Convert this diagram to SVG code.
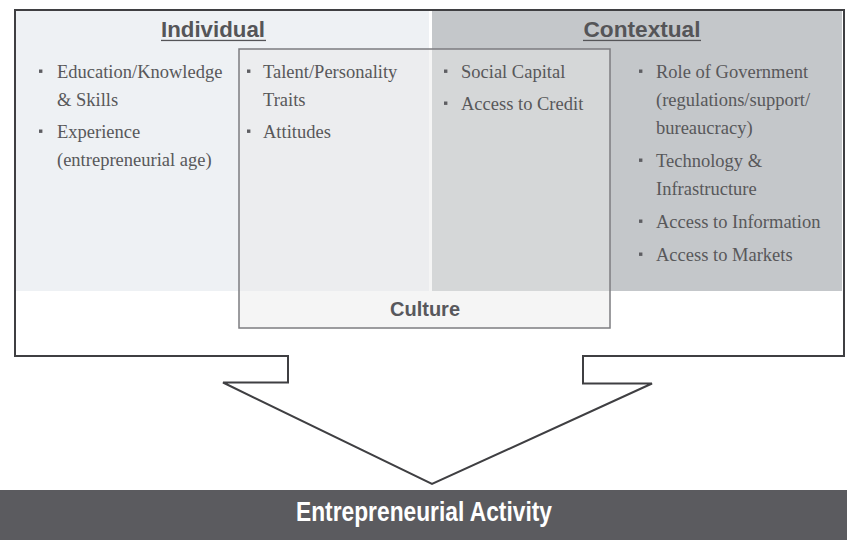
<svg xmlns="http://www.w3.org/2000/svg" width="847" height="540" viewBox="0 0 847 540">
  <style>
    .head { font-family: "Liberation Sans", Arial, sans-serif; font-weight: bold; font-size: 22px; fill: #555558; text-anchor: middle; }
    .item { font-family: "Liberation Serif", "Times New Roman", serif; font-size: 18.5px; fill: #58585a; }
    .bul { fill: #5e5e62; }
    .label { font-family: "Liberation Sans", Arial, sans-serif; font-weight: bold; font-size: 20px; fill: #58585c; text-anchor: middle; }
    .bar-text { font-family: "Liberation Sans Narrow", "Liberation Sans", Arial, sans-serif; font-weight: bold; font-size: 27px; fill: #ffffff; text-anchor: middle; }
  </style>
  <defs>
    <rect id="sq" width="3.4" height="3.4" class="bul"/>
  </defs>
  <rect width="847" height="540" fill="#ffffff"/>

  <!-- Individual factors panel -->
  <g id="individual">
    <rect x="16" y="11" width="413" height="280" fill="#eef1f4"/>
    <text class="head" x="213" y="37" textLength="104" lengthAdjust="spacingAndGlyphs">Individual</text>
    <rect x="161" y="39.8" width="105" height="1.3" fill="#555558"/>
    <use href="#sq" x="39" y="69.5"/>
    <text class="item" x="57" y="78">Education/Knowledge</text>
    <text class="item" x="57" y="106">&amp; Skills</text>
    <use href="#sq" x="39" y="129.5"/>
    <text class="item" x="57" y="138">Experience</text>
    <text class="item" x="57" y="166">(entrepreneurial age)</text>
  </g>

  <!-- Contextual factors panel -->
  <g id="contextual">
    <rect x="432" y="11" width="410" height="280" fill="#c4c7ca"/>
    <text class="head" x="642" y="37" textLength="117" lengthAdjust="spacingAndGlyphs">Contextual</text>
    <rect x="583" y="39.8" width="118" height="1.3" fill="#555558"/>
    <use href="#sq" x="639" y="69.5"/>
    <text class="item" x="656" y="78">Role of Government</text>
    <text class="item" x="656" y="106">(regulations/support/</text>
    <text class="item" x="656" y="134">bureaucracy)</text>
    <use href="#sq" x="639" y="158.5"/>
    <text class="item" x="656" y="167">Technology &amp;</text>
    <text class="item" x="656" y="195">Infrastructure</text>
    <use href="#sq" x="639" y="219.5"/>
    <text class="item" x="656" y="228">Access to Information</text>
    <use href="#sq" x="639" y="252.5"/>
    <text class="item" x="656" y="261">Access to Markets</text>
  </g>

  <!-- Culture overlap box -->
  <g id="culture">
    <rect x="239" y="49" width="371" height="279" fill="#e9e9ea" fill-opacity="0.46" stroke="#7c7c80" stroke-width="1.5"/>
    <use href="#sq" x="247" y="69.5"/>
    <text class="item" x="263" y="78">Talent/Personality</text>
    <text class="item" x="263" y="106">Traits</text>
    <use href="#sq" x="247" y="129.5"/>
    <text class="item" x="263" y="138">Attitudes</text>
    <use href="#sq" x="444" y="69.5"/>
    <text class="item" x="461" y="78">Social Capital</text>
    <use href="#sq" x="444" y="101.5"/>
    <text class="item" x="461" y="110">Access to Credit</text>
    <text class="label" x="425" y="316">Culture</text>
  </g>

  <!-- Outline of the factor frame narrowing into a downward arrow -->
  <g id="connectors">
    <path d="M15,10 H844 V356 H583 V383.5 H652 L432,484 L223,382.5 H288 V356 H15 Z" fill="none" stroke="#3f3f42" stroke-width="2" stroke-linejoin="miter"/>
  </g>

  <!-- Outcome bar -->
  <g id="activity">
    <rect x="0" y="490" width="847" height="50" fill="#5b5b5f"/>
    <text class="bar-text" x="424" y="521" textLength="256" lengthAdjust="spacingAndGlyphs">Entrepreneurial Activity</text>
  </g>
</svg>
